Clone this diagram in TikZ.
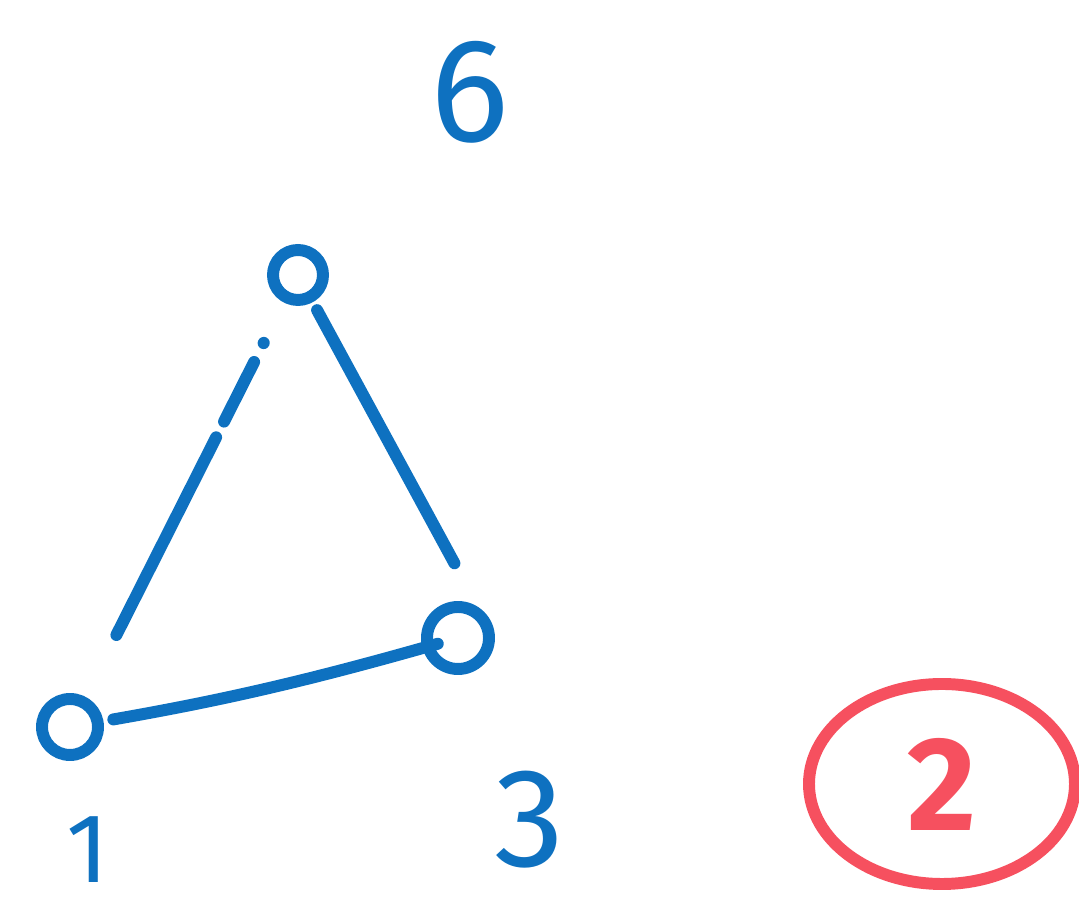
\documentclass[tikz,border=0pt]{standalone}
\usepackage{fontspec}
\setmainfont{Fira Sans}
\usetikzlibrary{shapes.geometric}
\definecolor{penblue}{RGB}{14,113,192}
\definecolor{penred}{RGB}{246,80,95}

\begin{document}
\begin{tikzpicture}[
  vert/.style={circle, draw=penblue, line width=3.4pt, inner sep=0pt},
  edge/.style={penblue, line width=3.4pt, line cap=round},
  lbl/.style={text=penblue, inner sep=0pt}]
\useasboundingbox (0,0) rectangle (10.79,-9.10);
\node[vert, minimum size=0.50cm] (v6) at (2.98,-2.75) {};
\node[vert, minimum size=0.62cm] (v3) at (4.58,-6.38) {};
\node[vert, minimum size=0.56cm] (v1) at (0.70,-7.27) {};
\node[lbl, font=\fontsize{42}{42}\selectfont] (l6) at (4.70,-0.92) {6};
\node[lbl, font=\fontsize{28}{28}\selectfont] (l1) at (0.88,-8.50) {1};
\node[lbl, font=\fontsize{40}{40}\selectfont] (l3) at (5.30,-8.20) {3};
\node[ellipse, draw=penred, line width=3.4pt, text=penred, minimum width=2.66cm,
  minimum height=2.00cm, font=\fontsize{38}{38}\bfseries] (c2) at (9.42,-7.84) {2};
% edges
\draw[edge, shorten <=0.76cm, shorten >=1.03cm,
  dash pattern=on 0.1pt off 6pt on 19pt off 5pt on 70pt] (v6.center) -- (v1.center);
\draw[edge, shorten <=0.40cm, shorten >=0.85cm] (v6.center) -- (v3.east);
\draw[edge, shorten <=0.44cm, shorten >=0.21cm] (v1.center) to[bend right=3] (v3.center);
\end{tikzpicture}
\end{document}
